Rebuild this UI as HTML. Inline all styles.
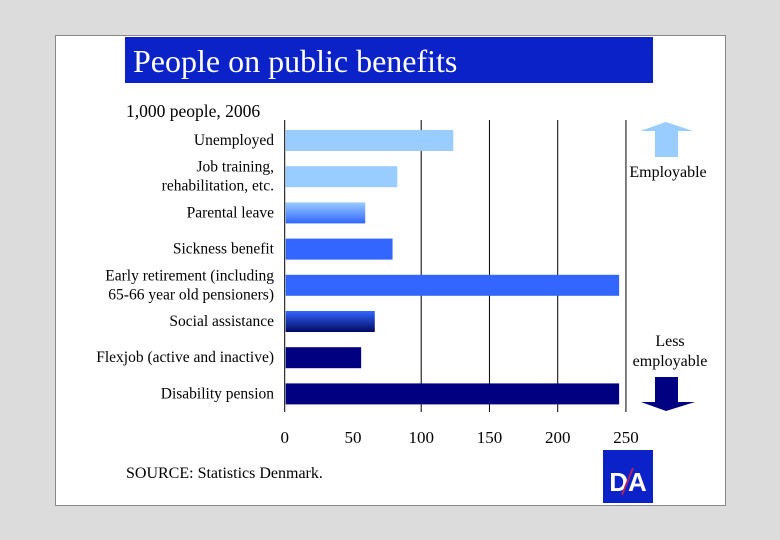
<!DOCTYPE html>
<html><head><meta charset="utf-8"><style>
body{margin:0;background:#dcdcdc;width:780px;height:540px;position:relative;overflow:hidden;font-family:"Liberation Serif",serif;}
#slide{position:absolute;left:55px;top:35px;width:669px;height:469px;background:#fff;border:1px solid #888;}
.abs{position:absolute;}
</style></head><body>
<div id="slide"></div>
<div class="abs" style="left:125px;top:37px;width:528px;height:46px;background:#0a22c8;color:#fff;font-size:32px;line-height:48px;padding-left:8px;box-sizing:border-box;white-space:nowrap;">People on public benefits</div>
<div class="abs" style="left:126px;top:101px;font-size:17.5px;">1,000 people, 2006</div>
<div class="abs" style="left:126px;top:465px;font-size:16px;">SOURCE: Statistics Denmark.</div>
<svg class="abs" style="left:0;top:0" width="780" height="540">
<defs>
<linearGradient id="g1" x1="0" y1="0" x2="0" y2="1"><stop offset="0" stop-color="#99ccff"/><stop offset="1" stop-color="#3366ff"/></linearGradient>
<linearGradient id="g2" x1="0" y1="0" x2="0" y2="1"><stop offset="0" stop-color="#3366ff"/><stop offset="1" stop-color="#000a60"/></linearGradient>
</defs>
<g id="grid"></g><g id="bars"></g><g id="labels"></g><g id="ticks"></g>
<polygon points="640,131 666,122 693,131 678,131 678,157 655,157 655,131" fill="#99ccff"/>
<text x="668" y="177" text-anchor="middle" font-size="16">Employable</text>
<text x="670" y="346" text-anchor="middle" font-size="16">Less</text>
<text x="670" y="366" text-anchor="middle" font-size="16">employable</text>
<polygon points="655,377 678,377 678,402 695,402 666,411 641,402 655,402" fill="#000080"/>
<rect x="603" y="450" width="50" height="53" fill="#0a22c8"/>
<text x="628" y="491" text-anchor="middle" font-family="Liberation Sans" font-weight="bold" font-size="26" fill="#fff">DA</text>
<line x1="622" y1="495" x2="633" y2="468" stroke="#aa2266" stroke-width="2"/>
</svg>
<script>
const categories=["Unemployed","Job training,|rehabilitation, etc.","Parental leave","Sickness benefit","Early retirement (including|65-66 year old pensioners)","Social assistance","Flexjob (active and inactive)","Disability pension"];
const values=[123.5,82.5,59,79,245,66,56,245];
const fills=["#99ccff","#99ccff","url(#g1)","#3366ff","#3366ff","url(#g2)","#000080","#000080"];
const tickValues=[0,50,100,150,200,250];
const gridValues=[100,150,200,250];
const NS="http://www.w3.org/2000/svg";
const x=v=>284.7+v*1.365;
const y=i=>130+i*36.2;
function mk(t,a,p){const e=document.createElementNS(NS,t);for(const k in a)e.setAttribute(k,a[k]);document.getElementById(p).appendChild(e);return e;}
gridValues.forEach(v=>{const l=mk('line',{x1:x(v),x2:x(v),y1:120,y2:412,stroke:'#000','stroke-width':1},'grid');

});
const ax=mk('line',{x1:x(0),x2:x(0),y1:120,y2:412,stroke:'#000','stroke-width':1},'grid');


values.forEach((v,i)=>{const r=mk('rect',{x:x(0)+1,y:y(i),width:x(v)-x(0)-1,height:21,fill:fills[i]},'bars');


const parts=categories[i].split('|');
parts.forEach((p,j)=>{const t=mk('text',{x:274,y:y(i)+15+(parts.length>1?(j-0.5)*19:0),'text-anchor':'end','font-size':15.5},'labels');t.textContent=p;

});});
tickValues.forEach(v=>{const t=mk('text',{x:x(v),y:443,'text-anchor':'middle','font-size':17},'ticks');t.textContent=v;

});
</script>
</body></html>
